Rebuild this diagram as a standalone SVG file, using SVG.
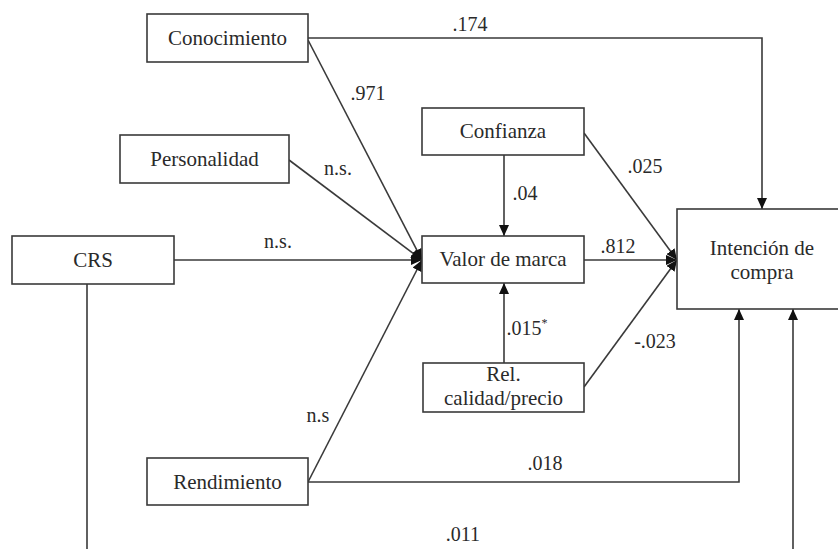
<svg xmlns="http://www.w3.org/2000/svg" width="838" height="549" viewBox="0 0 838 549">
<style>
.box{fill:#fff;stroke:#3a3a3a;stroke-width:1.6}
.t{font-family:"Liberation Serif","Times New Roman",serif;font-size:20px;fill:#2a2a2a;text-anchor:middle}
.n{font-size:21px}
.c{fill:none;stroke:#3a3a3a;stroke-width:1.6}
</style>
<defs>
<marker id="ah" markerUnits="userSpaceOnUse" markerWidth="12" markerHeight="10" refX="11" refY="5" orient="auto">
<path d="M0,0 L11,5 L0,10 z" fill="#111"/>
</marker>
</defs>
<rect width="838" height="549" fill="#fff"/>
<g id="connectors">
<polyline class="c" points="308,38 762,38 762,209" marker-end="url(#ah)"/>
<line class="c" x1="308" y1="40" x2="422" y2="260" marker-end="url(#ah)"/>
<line class="c" x1="289" y1="160" x2="422" y2="260" marker-end="url(#ah)"/>
<line class="c" x1="174" y1="260" x2="422" y2="260" marker-end="url(#ah)"/>
<line class="c" x1="308" y1="482" x2="422" y2="260" marker-end="url(#ah)"/>
<line class="c" x1="504" y1="155" x2="504" y2="236" marker-end="url(#ah)"/>
<line class="c" x1="504" y1="363" x2="504" y2="283" marker-end="url(#ah)"/>
<line class="c" x1="584" y1="133" x2="677" y2="260" marker-end="url(#ah)"/>
<line class="c" x1="584" y1="260" x2="677" y2="260" marker-end="url(#ah)"/>
<line class="c" x1="584" y1="387" x2="677" y2="260" marker-end="url(#ah)"/>
<polyline class="c" points="308,482 739,482 739,309" marker-end="url(#ah)"/>
<polyline class="c" points="87,284 87,565 793,565 793,309" marker-end="url(#ah)"/>
</g>
<g id="labels">
<text class="t" x="470" y="31">.174</text>
<text class="t" x="368" y="100">.971</text>
<text class="t" x="338" y="175">n.s.</text>
<text class="t" x="278" y="248">n.s.</text>
<text class="t" x="525" y="200">.04</text>
<text class="t" x="645" y="173">.025</text>
<text class="t" x="618" y="253">.812</text>
<text class="t" x="527" y="335">.015<tspan font-size="12" dy="-8">*</tspan></text>
<text class="t" x="655" y="348">-.023</text>
<text class="t" x="318" y="422">n.s</text>
<text class="t" x="545" y="470">.018</text>
<text class="t" x="463" y="541">.011</text>
</g>
<g id="conocimiento"><rect class="box" x="147" y="14" width="161" height="48"/><text class="t n" x="227.5" y="45">Conocimiento</text></g>
<g id="personalidad"><rect class="box" x="120" y="135" width="169" height="48"/><text class="t n" x="204.5" y="166">Personalidad</text></g>
<g id="crs"><rect class="box" x="12" y="236" width="162" height="48"/><text class="t n" x="93" y="267">CRS</text></g>
<g id="confianza"><rect class="box" x="422" y="108" width="162" height="47"/><text class="t n" x="503" y="138">Confianza</text></g>
<g id="valor"><rect class="box" x="422" y="236" width="162" height="47"/><text class="t n" x="503" y="266">Valor de marca</text></g>
<g id="relcalidad"><rect class="box" x="423" y="363" width="161" height="49"/><text class="t n" x="503.5" y="381">Rel.</text><text class="t n" x="503.5" y="405">calidad/precio</text></g>
<g id="intencion"><rect class="box" x="677" y="209" width="180" height="100"/><text class="t n" x="762" y="255">Intención de</text><text class="t n" x="762" y="279">compra</text></g>
<g id="rendimiento"><rect class="box" x="147" y="458" width="161" height="47"/><text class="t n" x="227.5" y="489">Rendimiento</text></g>
</svg>
